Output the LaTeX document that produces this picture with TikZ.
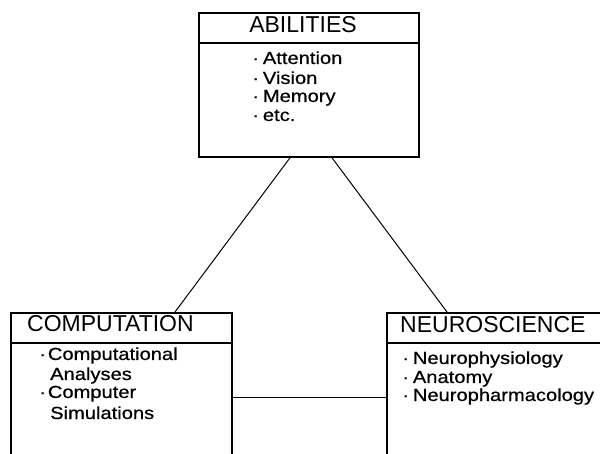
\documentclass[tikz,border=0pt]{standalone}
\usepackage{fontspec}
\setmainfont{Liberation Sans}
\newfontfamily\headfont{Liberation Sans}
\newfontfamily\bodyfont[FakeStretch=1.15,FakeBold=0.6]{Liberation Sans}
\begin{document}
\begin{tikzpicture}[x=1pt,y=-1pt,
  box/.style={draw,line width=1.8pt,rectangle,anchor=north west,inner sep=0pt,minimum width=#1},
  title/.style={font=\headfont\fontsize{23}{23}\selectfont,inner sep=0pt},
  item/.style={font=\bodyfont\fontsize{17.5}{19}\selectfont,inner sep=0pt,anchor=base west},
  link/.style={line width=1pt}]
\useasboundingbox[fill=white] (0,0) rectangle (600,454);
% boxes
\node[box=220pt,minimum height=144pt] (abil) at (198,12) {};
\node[box=221pt,minimum height=190pt] (comp) at (10,312) {};
\node[box=240pt,minimum height=190pt] (neuro) at (386,312) {};
% header separators
\draw[line width=1.8pt] ([yshift=-31pt]abil.north west) -- ([yshift=-31pt]abil.north east);
\draw[line width=1.8pt] ([yshift=-31pt]comp.north west) -- ([yshift=-31pt]comp.north east);
\draw[line width=1.8pt] ([yshift=-31pt]neuro.north west) -- ([yshift=-31pt]neuro.north east);
% titles
\node[title,anchor=base] (tabil) at (303,33) {ABILITIES};
\node[title,anchor=base west] (tcomp) at (27,332) {COMPUTATION};
\node[title,anchor=base west] (tneuro) at (400,333) {NEUROSCIENCE};
% abilities items
\node[item] (a1) at (252,64) {·\hspace{4pt}Attention};
\node[item] (a2) at (252,84) {·\hspace{4pt}Vision};
\node[item] (a3) at (252,102) {·\hspace{4pt}Memory};
\node[item] (a4) at (252,121) {·\hspace{4pt}etc.};
% computation items
\node[item] (c1) at (39,360) {·\hspace{2pt}Computational};
\node[item] (c2) at (50,380) {Analyses};
\node[item] (c3) at (39,398) {·\hspace{2pt}Computer};
\node[item] (c4) at (50,419) {Simulations};
% neuroscience items
\node[item] (n1) at (402,364) {·\hspace{4pt}Neurophysiology};
\node[item] (n2) at (402,383) {·\hspace{4pt}Anatomy};
\node[item] (n3) at (402,401) {·\hspace{4pt}Neuropharmacology};
% connectors
\draw[link] ([xshift=92pt]abil.south west) -- ([xshift=165pt]comp.north west);
\draw[link] ([xshift=134pt]abil.south west) -- ([xshift=61pt]neuro.north west);
\draw[link] ([yshift=-85pt]comp.north east) -- ([yshift=-85pt]neuro.north west);
\end{tikzpicture}
\end{document}
